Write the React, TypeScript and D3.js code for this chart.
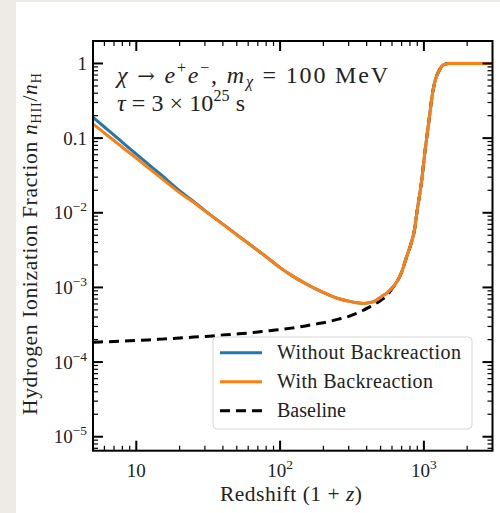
import React, { useEffect, useRef } from 'react';
import * as d3 from 'd3';

// redshift grid (1+z) shared by all three curves
const redshift = [5, 6, 7, 8, 10, 12, 15, 20, 25, 30, 40, 50, 60, 80, 100, 120, 150, 180, 220, 260, 300, 340, 380, 420, 470, 500, 560, 600, 650, 700, 760, 815, 860, 900, 960, 1020, 1090, 1140, 1200, 1280, 1360, 1480, 1700, 2000, 2500, 3000];

const withoutBackreaction = [0.19, 0.141, 0.11, 0.088, 0.061, 0.0455, 0.0318, 0.0198, 0.0142, 0.0107, 0.00705, 0.0051, 0.0039, 0.00258, 0.00184, 0.00145, 0.00113, 0.00094, 0.00079, 0.0007, 0.000655, 0.000625, 0.00061, 0.000625, 0.00068, 0.00074, 0.00086, 0.00098, 0.0012, 0.0016, 0.0026, 0.0039, 0.0059, 0.011, 0.025, 0.069, 0.185, 0.365, 0.6, 0.81, 0.95, 1.0, 1.0, 1.0, 1.0, 1.0];

const withBackreaction = [0.155, 0.117, 0.093, 0.0755, 0.054, 0.0406, 0.0289, 0.0186, 0.0138, 0.0106, 0.007, 0.00505, 0.0039, 0.00258, 0.00184, 0.00145, 0.00113, 0.00094, 0.00079, 0.0007, 0.000655, 0.000625, 0.00061, 0.000625, 0.00068, 0.00074, 0.00086, 0.00098, 0.0012, 0.0016, 0.0026, 0.0039, 0.0059, 0.011, 0.025, 0.069, 0.185, 0.365, 0.6, 0.81, 0.95, 1.0, 1.0, 1.0, 1.0, 1.0];

const baseline = [0.000185, 0.000187, 0.000189, 0.000191, 0.000195, 0.000198, 0.000203, 0.00021, 0.000216, 0.00022, 0.00023, 0.000238, 0.000245, 0.00026, 0.000272, 0.000285, 0.000305, 0.000325, 0.00035, 0.00038, 0.00041, 0.00045, 0.000495, 0.00055, 0.00062, 0.00067, 0.0008, 0.00096, 0.0012, 0.0016, 0.0026, 0.0039, 0.0059, 0.011, 0.025, 0.069, 0.185, 0.365, 0.6, 0.81, 0.95, 1.0, 1.0, 1.0, 1.0, 1.0];

const xTicks = [10, 100, 1000];
const xTickExp = ['', '2', '3'];
const yTicks = [1e-5, 1e-4, 1e-3, 1e-2, 0.1, 1];
const yTickExp = ['\u22125', '\u22124', '\u22123', '\u22122', '', ''];
const yTickPlain = ['', '', '', '', '0.1', '1'];

const legendLabels = ['Without Backreaction', 'With Backreaction', 'Baseline'];
const legendWidths = [184, 156, 69];

const FONT = '"Liberation Serif", "DejaVu Serif", serif';

export default function App() {
  const svgRef = useRef(null);
  const W = 500;
  const H = 513;
  const AX = { left: 93, right: 492.5, top: 41, bottom: 450.7 };

  useEffect(() => {
    document.body.style.margin = '0';
    document.body.style.overflow = 'hidden';

    const svg = d3.select(svgRef.current);
    svg.selectAll('*').remove();

    const x = d3.scaleLog().domain([5, 3000]).range([AX.left, AX.right]);
    const y = d3.scaleLog().domain([6.5e-6, 2]).range([AX.bottom, AX.top]);

    // page background + white figure area
    svg.append('rect').attr('width', W).attr('height', H).attr('fill', '#eeebe5');
    svg.append('rect').attr('x', 16).attr('y', 2).attr('width', W - 16).attr('height', H - 2).attr('fill', '#ffffff');

    svg.append('defs').append('clipPath').attr('id', 'plotclip')
      .append('rect')
      .attr('x', AX.left).attr('y', AX.top)
      .attr('width', AX.right - AX.left).attr('height', AX.bottom - AX.top);

    const plot = svg.append('g').attr('clip-path', 'url(#plotclip)');
    const line = (vals) => d3.line()
      .x((d, i) => x(redshift[i]))
      .y(d => y(d))
      .curve(d3.curveMonotoneX)(vals);

    plot.append('path').attr('d', line(baseline))
      .attr('fill', 'none').attr('stroke', '#000').attr('stroke-width', 3)
      .attr('stroke-dasharray', '10,6');
    plot.append('path').attr('d', line(withoutBackreaction))
      .attr('fill', 'none').attr('stroke', '#1f77b4').attr('stroke-width', 3);
    plot.append('path').attr('d', line(withBackreaction))
      .attr('fill', 'none').attr('stroke', '#ff7f0e').attr('stroke-width', 3);

    // ticks (inward, all four sides)
    const tk = svg.append('g').attr('stroke', '#000');
    const xMinor = [];
    const yMinor = [];
    for (let e = -6; e <= 3; e++) {
      for (let m = 2; m <= 9; m++) {
        const v = m * Math.pow(10, e);
        if (v > 5 && v < 3000) xMinor.push(v);
        if (v > 6.5e-6 && v < 2) yMinor.push(v);
      }
    }
    const major = 10, minor = 5;
    xTicks.forEach(v => {
      tk.append('line').attr('x1', x(v)).attr('x2', x(v)).attr('y1', AX.bottom).attr('y2', AX.bottom - major).attr('stroke-width', 2);
      tk.append('line').attr('x1', x(v)).attr('x2', x(v)).attr('y1', AX.top).attr('y2', AX.top + major).attr('stroke-width', 2);
    });
    xMinor.forEach(v => {
      tk.append('line').attr('x1', x(v)).attr('x2', x(v)).attr('y1', AX.bottom).attr('y2', AX.bottom - minor).attr('stroke-width', 1.2);
      tk.append('line').attr('x1', x(v)).attr('x2', x(v)).attr('y1', AX.top).attr('y2', AX.top + minor).attr('stroke-width', 1.2);
    });
    yTicks.forEach(v => {
      tk.append('line').attr('y1', y(v)).attr('y2', y(v)).attr('x1', AX.left).attr('x2', AX.left + major).attr('stroke-width', 2);
      tk.append('line').attr('y1', y(v)).attr('y2', y(v)).attr('x1', AX.right).attr('x2', AX.right - major).attr('stroke-width', 2);
    });
    yMinor.forEach(v => {
      tk.append('line').attr('y1', y(v)).attr('y2', y(v)).attr('x1', AX.left).attr('x2', AX.left + minor).attr('stroke-width', 1.2);
      tk.append('line').attr('y1', y(v)).attr('y2', y(v)).attr('x1', AX.right).attr('x2', AX.right - minor).attr('stroke-width', 1.2);
    });

    // frame
    svg.append('rect')
      .attr('x', AX.left).attr('y', AX.top)
      .attr('width', AX.right - AX.left).attr('height', AX.bottom - AX.top)
      .attr('fill', 'none').attr('stroke', '#000').attr('stroke-width', 2);

    const tickFs = 19;
    // x tick labels
    xTicks.forEach((v, i) => {
      const t = svg.append('text')
        .attr('x', x(v)).attr('y', 477)
        .attr('text-anchor', 'middle')
        .style('font-family', FONT).style('font-size', tickFs + 'px').attr('fill', '#222');
      t.append('tspan').text('10');
      if (xTickExp[i]) t.append('tspan').attr('dy', -8).style('font-size', '13.5px').text(xTickExp[i]);
    });
    // y tick labels
    yTicks.forEach((v, i) => {
      const t = svg.append('text')
        .attr('x', 87).attr('y', y(v) + 6.5)
        .attr('text-anchor', 'end')
        .style('font-family', FONT).style('font-size', tickFs + 'px').attr('fill', '#222');
      if (yTickPlain[i]) {
        t.text(yTickPlain[i]);
      } else {
        t.append('tspan').text('10');
        t.append('tspan').attr('dy', -8).style('font-size', '13.5px').text(yTickExp[i]);
      }
    });

    // axis titles
    const xt = svg.append('text')
      .attr('x', 291).attr('y', 501)
      .attr('text-anchor', 'middle')
      .attr('textLength', 142).attr('lengthAdjust', 'spacing')
      .style('font-family', FONT).style('font-size', '21.5px').attr('fill', '#222');
    xt.append('tspan').text('Redshift (1 + ');
    xt.append('tspan').style('font-style', 'italic').text('z');
    xt.append('tspan').text(')');

    const yt = svg.append('text')
      .attr('transform', 'translate(37,244) rotate(-90)')
      .attr('text-anchor', 'middle')
      .attr('textLength', 342).attr('lengthAdjust', 'spacing')
      .style('font-family', FONT).style('font-size', '21.5px').attr('fill', '#222');
    yt.append('tspan').text('Hydrogen Ionization Fraction ');
    yt.append('tspan').style('font-style', 'italic').text('n');
    yt.append('tspan').attr('dy', 4).style('font-size', '14.5px').text('HII');
    yt.append('tspan').attr('dy', -4).text('/');
    yt.append('tspan').style('font-style', 'italic').text('n');
    yt.append('tspan').attr('dy', 4).style('font-size', '14.5px').text('H');

    // annotation
    const a1 = svg.append('text').attr('x', 117).attr('y', 83)
      .attr('textLength', 271).attr('lengthAdjust', 'spacing')
      .style('font-family', FONT).style('font-size', '24px').attr('fill', '#222');
    a1.append('tspan').style('font-style', 'italic').text('\u03c7');
    a1.append('tspan').text(' ');
    a1.append('tspan').style('font-family', '"DejaVu Serif", serif').style('font-size', '21px').text('\u2192');
    a1.append('tspan').text(' ');
    a1.append('tspan').style('font-style', 'italic').text('e');
    a1.append('tspan').attr('dy', -10).style('font-size', '16px').text('+');
    a1.append('tspan').attr('dy', 10).style('font-style', 'italic').text('e');
    a1.append('tspan').attr('dy', -10).style('font-size', '16px').text('\u2212');
    a1.append('tspan').attr('dy', 10).text(', ');
    a1.append('tspan').style('font-style', 'italic').text('m');
    a1.append('tspan').attr('dy', 4).style('font-size', '16px').style('font-style', 'italic').text('\u03c7');
    a1.append('tspan').attr('dy', -4).text(' = 100 MeV');

    const a2 = svg.append('text').attr('x', 117).attr('y', 111)
      .attr('textLength', 128).attr('lengthAdjust', 'spacing')
      .style('font-family', FONT).style('font-size', '24px').attr('fill', '#222');
    a2.append('tspan').style('font-style', 'italic').text('\u03c4');
    a2.append('tspan').text(' = 3 \u00d7 10');
    a2.append('tspan').attr('dy', -10).style('font-size', '16px').text('25');
    a2.append('tspan').attr('dy', 10).text(' s');

    // legend
    const lg = svg.append('g');
    lg.append('rect')
      .attr('x', 213).attr('y', 337).attr('width', 259).attr('height', 92).attr('rx', 4)
      .attr('fill', '#fff').attr('fill-opacity', 0.8)
      .attr('stroke', '#d6d6d6').attr('stroke-width', 1);
    const legendStyle = [
      { color: '#1f77b4', dash: null },
      { color: '#ff7f0e', dash: null },
      { color: '#000', dash: '10,6' },
    ];
    legendLabels.forEach((lab, i) => {
      const cy = 352.7 + i * 29;
      const ln = lg.append('line')
        .attr('x1', 220).attr('x2', 262).attr('y1', cy).attr('y2', cy)
        .attr('stroke', legendStyle[i].color).attr('stroke-width', 3);
      if (legendStyle[i].dash) ln.attr('stroke-dasharray', legendStyle[i].dash);
      lg.append('text')
        .attr('x', 277).attr('y', cy + 6.5)
        .attr('textLength', legendWidths[i]).attr('lengthAdjust', 'spacing')
        .style('font-family', FONT).style('font-size', '20px').attr('fill', '#222')
        .text(lab);
    });
  }, []);

  return (
    <svg ref={svgRef} width={W} height={H} style={{ position: 'absolute', left: 0, top: 0, display: 'block' }} />
  );
}
